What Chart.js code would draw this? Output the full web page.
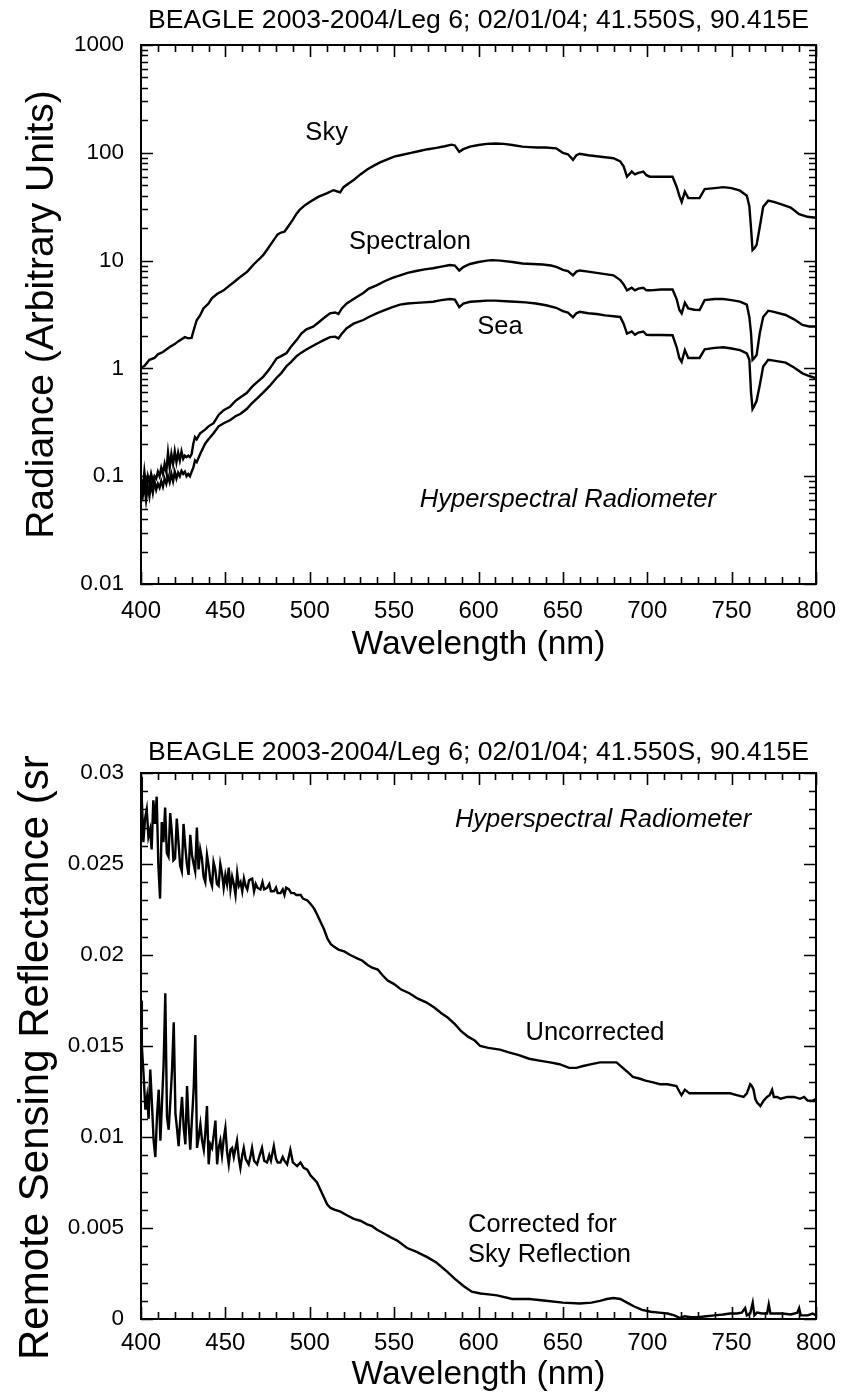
<!DOCTYPE html>
<html>
<head>
<meta charset="utf-8">
<script src="https://cdn.jsdelivr.net/npm/chart.js@4.4.1/dist/chart.umd.min.js"></script>
<style>
  html, body { margin: 0; padding: 0; background: #fff; }
  #wrap { position: relative; width: 842px; height: 1395px; overflow: hidden; background: #fff; }
  canvas { position: absolute; left: 0; }
</style>
</head>
<body>
<div id="wrap">
  <canvas id="c1" width="842" height="690" style="top:0px;width:842px;height:690px"></canvas>
  <canvas id="c2" width="842" height="705" style="top:690px;width:842px;height:705px"></canvas>
</div>
<script>
// ---------------- DATA ----------------
const chartTitle = 'BEAGLE 2003-2004/Leg 6; 02/01/04; 41.550S, 90.415E';
const xAxisTitle = 'Wavelength (nm)';
const topYTitle = 'Radiance (Arbitrary Units)';
const bottomYTitle = 'Remote Sensing Reflectance (sr  ';
const xTickLabels = ['400', '450', '500', '550', '600', '650', '700', '750', '800'];
const topYTickLabels = ['0.01', '0.1', '1', '10', '100', '1000'];
const bottomYTickLabels = ['0', '0.005', '0.01', '0.015', '0.02', '0.025', '0.03'];

// Sky radiance
const skyWl = [400,402,405,408,410,413,417,420,422,426,428,430,431,433,435,437,440,442,445,449,452,455,458,463,467,470,472.5,475,478,481,483,485,487,490,492,494,497,500,505,510,514,516,518,520,523,526,530,534,538,542,546,550,555,560,565,570,575,580,584,586,588.6,591,595,600,605,610,615,620,626,630,635,640,646,650,653,656,658,660,665,670,675,680,684,686,688,690.8,692.7,694.7,697.7,699.5,701.6,705,710,715,717.4,719,720.4,722.3,724.3,728,731,734,740,745,750,755,759,760.5,761.5,762.4,763.5,764.8,766.7,768.7,771.7,775,780,785,790,795,800];
const skyVal = [1.02,1.05,1.2,1.25,1.35,1.42,1.58,1.68,1.78,1.95,1.9,1.92,2.2,2.8,3.1,3.6,4.0,4.47,4.9,5.3,5.8,6.3,6.9,7.9,9.3,10.3,11.3,12.8,15,17.5,18.2,18.5,20.5,24,27,29.5,32.5,35,39,42,45,44,43,48,52,56,63,70,76,82,87,92,96,100,104,108,111,115,119,117,102,108,114,118,121,122,121,118,114,113,112,112,110,100,97,86,95,98,95,93,91,89,83,75,60,67,63,65,67,62,60,60,60,60,48.5,40,35,43.6,38,38,38,46,47,48,47,44.5,40,32,20,12.5,13,14,20.6,31.6,36,35,33,31,27,25.5,25];

// Spectralon radiance
const specWl = [400,401,402,403,404,405,406,407,408,409,410,411,412,413,414,415,416,417,418,419,420,421,422,423,424,425,426,427,428,429,430,431,432,433,435,438,440,443,446,449,452.7,456,459,462.6,466,469,472.5,476,480.4,483,486.3,489,492.2,495,498,502,505,508,512,515,517,519,521.9,526,531.7,535,539.6,544,549,553.5,558,563,568,573,578,583,586,588.6,591,595,600,605,608,613,620,626,632,638,643,646.5,650,653,656,658,660,665,670,675,680,684,686,688,690.8,692.7,694.7,697.7,699.5,702,708,715,717.4,719,720.4,722.3,724.3,728,731,734,740,745,750,755,759,760.5,761.5,762.4,763.5,764.8,766.7,768.7,771.7,775,782,787,792,796,800];
const specVal = [0.095,0.075,0.11,0.08,0.1,0.085,0.105,0.09,0.1,0.095,0.11,0.1,0.12,0.105,0.13,0.11,0.165,0.12,0.16,0.13,0.17,0.135,0.165,0.14,0.17,0.145,0.155,0.15,0.155,0.15,0.16,0.2,0.23,0.22,0.25,0.27,0.29,0.31,0.37,0.41,0.44,0.5,0.54,0.59,0.68,0.75,0.84,0.98,1.24,1.3,1.39,1.6,1.83,2.1,2.3,2.44,2.65,2.9,3.24,3.3,3.2,3.6,4.0,4.4,5.0,5.5,5.9,6.4,6.9,7.3,7.7,8.0,8.3,8.5,8.8,9.1,9.0,8.1,8.7,9.3,9.7,10.0,10.1,10.0,9.7,9.4,9.3,9.2,9.0,8.7,8.2,8.0,7.3,7.9,8.1,7.9,7.7,7.5,7.3,6.6,6.0,5.3,5.6,5.3,5.5,5.6,5.3,5.3,5.4,5.4,4.4,3.5,3.24,4.07,3.6,3.5,3.48,4.3,4.4,4.4,4.3,4.16,3.9,3.0,2.13,1.2,1.25,1.33,2.13,3.0,3.43,3.35,3.13,2.85,2.53,2.45,2.45];

// Sea radiance
const seaWl = [400,401,402,403,404,405,406,407,408,409,410,411,412,413,414,415,416,417,418,419,420,421,422,423,424,425,426,427,428,429,430,431,432,433,435,438,440,443,446,449,452.7,456,459,462.6,466,469,472.5,476,480.4,483,486.3,489,492.2,495,498,502,505,508,512,515,517,519,521.9,526,531.7,535,539.6,544,549,553.5,558,563,568,573,578,583,586,588.6,591,595,600,605,610,616,622,628,634,640,646,650,653,656,658,660,665,670,675,680,684,686,688,690.8,692.7,694.7,697.7,699.5,702,708,715,717.4,719,720.4,722.3,724.3,728,731,734,740,745,750,755,759,760.5,761.5,762.4,763.5,764.8,766.7,768.7,771.7,775,782,787,792,796,800];
const seaVal = [0.075,0.065,0.085,0.06,0.08,0.065,0.085,0.07,0.09,0.075,0.085,0.078,0.09,0.08,0.095,0.085,0.1,0.088,0.105,0.09,0.11,0.095,0.108,0.1,0.112,0.105,0.11,0.1,0.105,0.1,0.11,0.12,0.14,0.135,0.16,0.2,0.22,0.25,0.29,0.31,0.33,0.36,0.38,0.42,0.48,0.53,0.6,0.68,0.82,0.9,1.05,1.15,1.3,1.4,1.5,1.62,1.72,1.82,1.95,1.97,1.9,2.1,2.36,2.6,2.81,3.0,3.24,3.45,3.7,3.9,4.0,4.05,4.1,4.15,4.3,4.4,4.35,3.7,4.0,4.15,4.2,4.25,4.25,4.2,4.15,4.1,4.0,3.85,3.65,3.4,3.3,2.98,3.25,3.35,3.25,3.2,3.1,3.05,3.0,2.6,2.1,2.2,2.05,2.15,2.2,2.05,2.04,2.04,2.03,1.58,1.25,1.15,1.48,1.25,1.25,1.25,1.5,1.55,1.57,1.53,1.48,1.38,1.2,0.6,0.42,0.45,0.5,0.7,1.04,1.2,1.18,1.13,1.02,0.9,0.85,0.81];

// Remote sensing reflectance, uncorrected
const uncWl = [400,400.5,401.4,402.4,403.4,404.4,405.4,406.3,407.3,408.3,409.3,410.3,411.3,412.3,413.3,414.3,415.3,416.3,417.3,418.3,419.2,420.2,421.2,422.2,423.2,424.2,425.2,426.2,427.2,428.2,429.2,430.2,431.2,432.1,433.1,434.1,435.1,436.1,437.1,438.1,439.1,440.1,441.1,442.1,443,444,445,446,447,448,449,450,451,452,453,454,455,456,457,458,459,460,461,462,463,464,465.9,467,468,469,470.8,472,473,474.8,476,477,478.8,480,481,482.7,484,485,486,487.7,489,490.7,492,494.6,496,498.6,500.5,502.6,504.5,506.5,508.5,510.5,512.5,514.5,517,520.4,524,528.4,531,534.3,537,540.3,543,546.2,550,554.2,559,564.1,569,574,578,581.9,586,589.9,594,597.8,601,605.8,612.7,618,623.9,630,636,642.4,648,653.7,658,662,667,672,676,681.8,685.5,688,691.5,695.7,699,703.4,707.6,712,717.3,719,720.3,722.3,725,729.2,735,740,745,749.1,753,757.1,759,761,762,763,764,765,767,769,771,772.5,774,775,777,779,783,787,790.5,793,795,798.4,800];
const uncVal = [0.0298,0.0285,0.0262,0.0275,0.028,0.0265,0.0269,0.0258,0.0285,0.0272,0.0287,0.0249,0.0231,0.0273,0.0262,0.0281,0.0256,0.0254,0.0278,0.0267,0.0252,0.0253,0.0275,0.0262,0.0249,0.0246,0.0272,0.026,0.025,0.0244,0.0266,0.0255,0.025,0.0246,0.027,0.0247,0.0258,0.0253,0.0243,0.024,0.0255,0.0249,0.0241,0.0238,0.0251,0.0247,0.0239,0.0238,0.025,0.0245,0.0237,0.0244,0.0239,0.0248,0.0236,0.0243,0.0239,0.0233,0.0245,0.0238,0.024,0.0235,0.0242,0.0238,0.0236,0.0241,0.0242,0.0235,0.0239,0.0237,0.0236,0.024,0.0236,0.0237,0.0239,0.0235,0.0235,0.0237,0.0234,0.0234,0.0236,0.0233,0.0237,0.0236,0.0234,0.0234,0.0233,0.0233,0.0231,0.023,0.0228,0.02255,0.0222,0.0218,0.0214,0.0209,0.0206,0.02045,0.0203,0.0202,0.02,0.0198,0.0197,0.01945,0.0193,0.0192,0.0189,0.0186,0.0184,0.0181,0.0179,0.0176,0.0174,0.0171,0.0168,0.01655,0.0162,0.0158,0.0155,0.0153,0.015,0.0149,0.0148,0.01465,0.0145,0.0143,0.0142,0.0141,0.014,0.0138,0.0138,0.0139,0.014,0.0141,0.0141,0.0141,0.0138,0.0136,0.0133,0.0132,0.0131,0.013,0.0129,0.0129,0.0128,0.0125,0.0123,0.0126,0.0124,0.0124,0.0124,0.0124,0.0124,0.0124,0.0123,0.0122,0.0124,0.0129,0.0128,0.0126,0.0121,0.0119,0.0117,0.012,0.0122,0.0123,0.0126,0.0122,0.0122,0.0121,0.0122,0.0122,0.0121,0.0122,0.012,0.012,0.0121];

// Remote sensing reflectance, corrected for sky reflection
const corWl = [400,400.5,401.6,402.6,403.6,404.5,405.5,406.5,407.5,408.5,409.5,410.5,411.5,412.4,413.4,414.4,415.4,416.4,417.4,418.4,419.4,420.4,421.3,422.3,423.3,424.3,425.3,426.3,427.3,428.2,429.2,430.2,431.2,432.2,433.2,434.2,435.2,436.2,437.2,438.1,439.1,440.1,441.1,442.1,443.1,444.1,445.1,446,447,448,449,450,451,452,453,454,455,456.9,458,458.9,460,460.9,462,463.8,465,465.8,467,468.8,470,471.7,473,474.7,476,477,478.7,480,481,482.6,484,485,486.6,488.5,490,492.5,494.5,496.4,498.5,500.4,502.4,504.3,506.3,508.3,510.3,512.3,515,518.2,522,526.1,530,534,537,539.9,544,547.8,552,557.7,563,569.6,575,581.4,586,591.3,596,601.2,606,611,620,630,640,650,660,667,672,676,680,684,688,692,697,702,707,712,716,719.5,722,726,730,735,740,745,749,753,756,758,759,761,762.5,763.5,765,768,771,772,773,776,780,785,789,790,791,795,798,800];
const corVal = [0.0175,0.015,0.0133,0.0115,0.0122,0.011,0.0137,0.0118,0.0098,0.0089,0.0112,0.0126,0.0098,0.0118,0.014,0.0179,0.0111,0.0104,0.012,0.0137,0.0163,0.0113,0.0105,0.0095,0.011,0.0122,0.0105,0.0096,0.0128,0.0108,0.0093,0.011,0.0126,0.0156,0.0094,0.01,0.0107,0.0098,0.0093,0.0102,0.0117,0.0085,0.0096,0.0094,0.0101,0.0109,0.0085,0.0094,0.0098,0.009,0.0099,0.0105,0.0092,0.0085,0.0093,0.0094,0.0089,0.0098,0.0088,0.0083,0.009,0.0094,0.0088,0.0085,0.009,0.0094,0.0087,0.0085,0.0089,0.0094,0.0087,0.0086,0.009,0.0087,0.0095,0.0088,0.0086,0.0086,0.0089,0.0087,0.0085,0.0093,0.0086,0.0084,0.0086,0.0083,0.0082,0.0079,0.0077,0.0075,0.0071,0.0067,0.0063,0.0061,0.006,0.0059,0.0057,0.0055,0.0054,0.0052,0.0051,0.0049,0.0047,0.0045,0.0043,0.0039,0.0037,0.0034,0.0031,0.0026,0.0022,0.0018,0.0015,0.0014,0.00135,0.0013,0.0011,0.0011,0.001,0.0009,0.00085,0.0009,0.001,0.0011,0.00115,0.0011,0.0009,0.0007,0.0005,0.0004,0.00035,0.0003,0.0002,0.00005,0.00015,0.0001,0.0001,0.00015,0.0002,0.00025,0.0003,0.0003,0.00035,0.0006,0.0002,0.0003,0.0009,0.0002,0.00035,0.0003,0.0003,0.0008,0.0003,0.0003,0.0003,0.00025,0.00035,0.0006,0.0002,0.0002,0.0003,0.0002];

// Annotation texts and their anchor positions in data units
const topNotes = [
  { text: 'Sky', x: 510, y: 153, italic: false, align: 'center' },
  { text: 'Spectralon', x: 559.4, y: 14.9, italic: false, align: 'center' },
  { text: 'Sea', x: 612.7, y: 2.42, italic: false, align: 'center' },
  { text: 'Hyperspectral Radiometer', x: 653, y: 0.06, italic: true, align: 'center' }
];
const bottomNotes = [
  { text: 'Hyperspectral Radiometer', x: 673.8, y: 0.02742, italic: true, align: 'center' },
  { text: 'Uncorrected', x: 669, y: 0.01571, italic: false, align: 'center' },
  { text: 'Corrected for', x: 593.8, y: 0.005165, italic: false, align: 'left' },
  { text: 'Sky Reflection', x: 593.8, y: 0.003516, italic: false, align: 'left' }
];

// ---------------- STYLE / HELPERS ----------------
const FONT = '"Liberation Sans", Arial, Helvetica, sans-serif';
const pairs = (xs, ys) => xs.map((x, i) => ({ x: x, y: ys[i] }));
const lineDs = (label, xs, ys) => ({
  label: label, data: pairs(xs, ys), borderColor: '#000', borderWidth: 2.4,
  pointRadius: 0, tension: 0, fill: false
});

const frameTicks = {
  id: 'frameTicks',
  afterDraw(chart, args, o) {
    const { ctx, chartArea: a, scales } = chart;
    const xs = scales.x, ys = scales.y;
    ctx.save();
    ctx.strokeStyle = '#000';
    ctx.lineWidth = 1.6;
    ctx.beginPath();
    for (let v = 400; v <= 800; v += 10) {
      const px = Math.round(xs.getPixelForValue(v)) + 0.5;
      const L = (v % 50 === 0) ? 12 : 7;
      ctx.moveTo(px, a.bottom); ctx.lineTo(px, a.bottom - L);
      ctx.moveTo(px, a.top); ctx.lineTo(px, a.top + L);
    }
    const yt = [];
    if (o.log) {
      for (let e = -2; e <= 3; e++) {
        for (let m = 1; m <= 9; m++) {
          const v = m * Math.pow(10, e);
          if (v > 1000.0001) break;
          yt.push({ v: v, major: m === 1 });
        }
      }
    } else {
      for (let k = 0; k <= 30; k++) yt.push({ v: k / 1000, major: k % 5 === 0 });
    }
    for (const t of yt) {
      const py = Math.round(ys.getPixelForValue(t.v)) + 0.5;
      const L = t.major ? 12 : 7;
      ctx.moveTo(a.left, py); ctx.lineTo(a.left + L, py);
      ctx.moveTo(a.right, py); ctx.lineTo(a.right - L, py);
    }
    ctx.stroke();
    ctx.lineWidth = 2;
    ctx.strokeRect(a.left, a.top, a.right - a.left, a.bottom - a.top);
    ctx.fillStyle = '#000';
    ctx.textBaseline = 'middle';
    for (const n of o.notes) {
      ctx.font = (n.italic ? 'italic ' : '') + o.noteSize + 'px ' + FONT;
      ctx.textAlign = n.align;
      ctx.fillText(n.text, xs.getPixelForValue(n.x), ys.getPixelForValue(n.y));
    }
    ctx.restore();
  }
};

function makeChart(id, cfg) {
  return new Chart(document.getElementById(id), {
    type: 'line',
    data: { datasets: cfg.datasets },
    options: {
      responsive: false, animation: false, devicePixelRatio: 1, events: [],
      layout: { padding: { left: 0, right: 26, top: 0, bottom: 0 } },
      plugins: {
        legend: { display: false }, tooltip: { enabled: false },
        title: {
          display: true, text: chartTitle, fullSize: false, color: '#000',
          font: { family: FONT, size: 26.6, weight: 'normal', lineHeight: 1.2 },
          padding: cfg.titlePad
        },
        frameTicks: { log: cfg.log, notes: cfg.notes, noteSize: 25.5 }
      },
      scales: {
        x: {
          type: 'linear', min: 400, max: 800, position: 'bottom',
          grid: { display: false, drawTicks: false }, border: { display: false },
          ticks: {
            stepSize: 50, color: '#000', padding: cfg.xTickPad, maxRotation: 0,
            font: { family: FONT, size: 24 },
            callback: (v) => xTickLabels[Math.round((v - 400) / 50)] ?? ''
          },
          title: {
            display: true, text: xAxisTitle, color: '#000',
            font: { family: FONT, size: 33.5 }, padding: { top: 0, bottom: cfg.xTitlePad }
          },
          afterFit: (s) => { s.height = cfg.xHeight; s.paddingLeft = 0; s.paddingRight = 0; }
        },
        y: cfg.y
      }
    },
    plugins: [frameTicks]
  });
}

// ---------------- TOP CHART ----------------
makeChart('c1', {
  log: true,
  notes: topNotes,
  titlePad: { top: 4.4, bottom: 8.68 },
  xTickPad: 13, xTitlePad: 25, xHeight: 106,
  datasets: [
    lineDs('Sky', skyWl, skyVal),
    lineDs('Spectralon', specWl, specVal),
    lineDs('Sea', seaWl, seaVal)
  ],
  y: {
    type: 'logarithmic', min: 0.01, max: 1000, position: 'left',
    grid: { display: false, drawTicks: false }, border: { display: false },
    ticks: {
      autoSkip: false, color: '#000', padding: 17,
      font: { family: FONT, size: 22.5 },
      callback: (v) => {
        const e = Math.log10(v);
        if (Math.abs(e - Math.round(e)) > 1e-6) return '';
        return topYTickLabels[Math.round(e) + 2] ?? '';
      }
    },
    title: {
      display: true, text: topYTitle, color: '#000',
      font: { family: FONT, size: 39 }, padding: { top: 19, bottom: 0 }
    },
    afterFit: (s) => { s.width = 141; s.paddingTop = 0; s.paddingBottom = 0; }
  }
});

// ---------------- BOTTOM CHART ----------------
makeChart('c2', {
  log: false,
  notes: bottomNotes,
  titlePad: { top: 46.4, bottom: 4.68 },
  xTickPad: 10, xTitlePad: 0, xHeight: 76,
  datasets: [
    lineDs('Uncorrected', uncWl, uncVal),
    lineDs('Corrected for Sky Reflection', corWl, corVal)
  ],
  y: {
    type: 'linear', min: 0, max: 0.03, position: 'left',
    grid: { display: false, drawTicks: false }, border: { display: false },
    ticks: {
      stepSize: 0.005, color: '#000', padding: 17, autoSkip: false,
      font: { family: FONT, size: 22.5 },
      callback: (v) => bottomYTickLabels[Math.round(v / 0.005)] ?? ''
    },
    title: {
      display: true, text: bottomYTitle, color: '#000',
      font: { family: FONT, size: 42 }, padding: { top: 11, bottom: 0 }
    },
    afterFit: (s) => { s.width = 141; s.paddingTop = 0; s.paddingBottom = 0; }
  }
});
</script>
</body>
</html>
